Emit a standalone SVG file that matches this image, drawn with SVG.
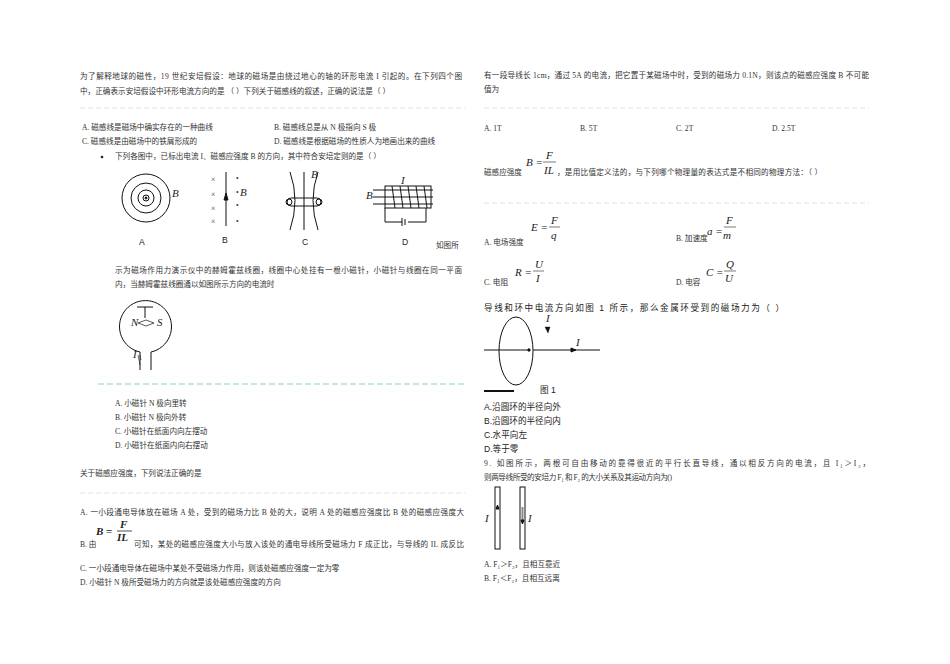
<svg xmlns="http://www.w3.org/2000/svg" width="950" height="664" viewBox="0 0 950 664">
<style>
text{font-family:"Liberation Serif","Noto Sans CJK SC",serif;font-size:7.6px;fill:#333}
.s{font-family:"Liberation Sans","Noto Sans CJK SC",sans-serif;font-size:8.6px;fill:#222}
.m{font-family:"Liberation Serif",serif;font-style:italic;font-size:11px;fill:#222}
.d{stroke:#ccc;stroke-width:0.6;stroke-dasharray:5,3}
.k{stroke:#111;fill:none;stroke-width:1}
</style>
<rect width="950" height="664" fill="#fff"/>
<g id="left">
<text x="80" y="79" textLength="382" lengthAdjust="spacing">为了解释地球的磁性，19 世纪安培假设：地球的磁场是由绕过地心的轴的环形电流 I 引起的。在下列四个图</text>
<text x="80" y="94" textLength="310" lengthAdjust="spacing">中，正确表示安培假设中环形电流方向的是 （ ）下列关于磁感线的叙述，正确的说法是（ ）</text>
<line class="d" x1="80" y1="108" x2="465" y2="108"/>
<text x="82" y="130">A. 磁感线是磁场中确实存在的一种曲线</text>
<text x="274" y="130">B. 磁感线总是从 N 极指向 S 极</text>
<text x="82" y="144">C. 磁感线是由磁场中的铁屑形成的</text>
<text x="274" y="144">D. 磁感线是根据磁场的性质人为地画出来的曲线</text>
<circle cx="102" cy="157" r="1.3" fill="#222"/>
<text x="115" y="159">下列各图中，已标出电流 I、磁感应强度 B 的方向，其中符合安培定则的是（ ）</text>
<g id="figA" class="k" stroke-width="0.8">
<circle cx="146" cy="198" r="24"/><circle cx="146" cy="198" r="15"/><circle cx="146" cy="198" r="8"/>
<circle cx="146" cy="198" r="3"/><circle cx="146" cy="198" r="1" fill="#111"/>
</g>
<text x="172" y="197" class="m" font-size="6">B</text>
<text x="139" y="245" class="s">A</text>
<g id="figB" class="k">
<line x1="226" y1="172" x2="226" y2="226"/>
<path d="M224 200 L226 193 L228 200Z" fill="#111"/>
</g>
<text x="211" y="182" font-size="9">×</text><text x="211" y="197" font-size="9">×</text><text x="211" y="211" font-size="9">×</text><text x="211" y="224" font-size="9">×</text>
<text x="236" y="181">•</text><text x="236" y="195">•</text><text x="236" y="208">•</text><text x="236" y="224">•</text>
<text x="240" y="196" class="m" font-size="6">B</text>
<text x="222" y="243" class="s">B</text>
<g id="figC" class="k" stroke-width="0.8">
<path d="M290 230 Q300 200 290 172"/><path d="M318 230 Q308 200 318 172"/><line x1="304" y1="230" x2="304" y2="172"/>
<rect x="287" y="198" width="34" height="8" rx="4"/>
<circle cx="289" cy="202" r="3"/><circle cx="319" cy="202" r="3"/>
</g>
<text x="311" y="178" class="m" font-size="6">B</text>
<text x="302" y="245" class="s">C</text>
<g id="figD" class="k" stroke-width="0.8">
<rect x="385" y="186" width="46" height="22"/>
<path d="M392 186 L395 208 M400 186 L403 208 M408 186 L411 208 M416 186 L419 208 M424 186 L427 208"/>
<line x1="373" y1="190" x2="433" y2="190"/><line x1="373" y1="197" x2="433" y2="197"/><line x1="373" y1="204" x2="433" y2="204"/>
<path d="M385 208 V222 H402 M408 222 H426 V208 M402 218 V226 M405 219 V225"/>
</g>
<text x="366" y="199" class="m" font-size="6">B</text>
<text x="401" y="184" class="m" font-size="6">I</text>
<text x="402" y="245" class="s">D</text>
<text x="436" y="248">如图所</text>
<text x="115" y="273" textLength="347" lengthAdjust="spacing">示为磁场作用力演示仪中的赫姆霍兹线圈，线圈中心处挂有一根小磁针，小磁针与线圈在同一平面</text>
<text x="115" y="287">内，当赫姆霍兹线圈通以如图所示方向的电流时</text>
<g id="helm" class="k">
<path d="M140 352 A26 26 0 1 1 151 352"/>
<path d="M140 352 V370 M151 352 V370"/>
<line x1="137" y1="307" x2="153" y2="307"/><line x1="145" y1="307" x2="145" y2="318"/>
<path d="M138 323 L146 320 L154 323 L146 326Z" stroke-width="0.7"/>
<path d="M140 365 L138 355 M140 355 L141 360" stroke-width="0.6"/>
</g>
<text x="131" y="326" class="m" font-size="6">N</text><text x="157" y="326" class="m" font-size="6">S</text>
<text x="133" y="358" class="m" font-size="6">I</text>
<line x1="98" y1="384" x2="465" y2="384" stroke="#8fcfb0" stroke-width="1.2" stroke-dasharray="6,3"/>
<text x="115" y="406">A. 小磁针 N 极向里转</text>
<text x="115" y="420">B. 小磁针 N 极向外转</text>
<text x="115" y="434">C. 小磁针在纸面内向左摆动</text>
<text x="115" y="448">D. 小磁针在纸面内向右摆动</text>
<text x="80" y="476">关于磁感应强度，下列说法正确的是</text>
<line class="d" x1="80" y1="493" x2="465" y2="493"/>
<text x="80" y="515" textLength="384" lengthAdjust="spacing">A. 一小段通电导体放在磁场 A 处，受到的磁场力比 B 处的大，说明 A 处的磁感应强度比 B 处的磁感应强度大</text>
<text x="96" y="535" class="m" font-weight="bold">B =</text>
<text x="120" y="528" class="m" font-weight="bold">F</text><line x1="117" y1="531" x2="132" y2="531" stroke="#222" stroke-width="0.8"/>
<text x="117" y="541" class="m" font-weight="bold">IL</text>
<text x="80" y="547">B. 由</text>
<text x="134" y="547" textLength="330" lengthAdjust="spacing">可知，某处的磁感应强度大小与放入该处的通电导线所受磁场力 F 成正比，与导线的 IL 成反比</text>
<text x="80" y="571">C. 一小段通电导体在磁场中某处不受磁场力作用，则该处磁感应强度一定为零</text>
<text x="80" y="585">D. 小磁针 N 极所受磁场力的方向就是该处磁感应强度的方向</text>
</g>
<g id="right">
<text x="484" y="78" textLength="385" lengthAdjust="spacing">有一段导线长 1cm，通过 5A 的电流，把它置于某磁场中时，受到的磁场力 0.1N，则该点的磁感应强度 B 不可能</text>
<text x="484" y="92">值为</text>
<line class="d" x1="484" y1="108" x2="869" y2="108"/>
<text x="484" y="131">A. 1T</text><text x="580" y="131">B. 5T</text><text x="676" y="131">C. 2T</text><text x="772" y="131">D. 2.5T</text>
<text x="526" y="166" class="m">B =</text><text x="546" y="159" class="m">F</text>
<line x1="543" y1="162" x2="556" y2="162" stroke="#222" stroke-width="0.6"/><text x="544" y="174" class="m">IL</text>
<text x="484" y="175">磁感应强度</text>
<text x="557" y="175" textLength="265" lengthAdjust="spacing">，是用比值定义法的，与下列哪个物理量的表达式是不相同的物理方法：（ ）</text>
<line class="d" x1="484" y1="203" x2="869" y2="203"/>
<text x="531" y="231" class="m">E =</text><text x="551" y="224" class="m">F</text>
<line x1="549" y1="227" x2="560" y2="227" stroke="#222" stroke-width="0.6"/><text x="551" y="239" class="m">q</text>
<text x="484" y="245">A. 电场强度</text>
<text x="707" y="235" class="m">a =</text><text x="726" y="224" class="m">F</text>
<line x1="724" y1="227" x2="736" y2="227" stroke="#222" stroke-width="0.6"/><text x="723" y="239" class="m">m</text>
<text x="676" y="241">B. 加速度</text>
<text x="515" y="276" class="m">R =</text><text x="535" y="268" class="m">U</text>
<line x1="533" y1="271" x2="544" y2="271" stroke="#222" stroke-width="0.6"/><text x="536" y="282" class="m">I</text>
<text x="484" y="285">C. 电阻</text>
<text x="706" y="276" class="m">C =</text><text x="726" y="268" class="m">Q</text>
<line x1="724" y1="271" x2="736" y2="271" stroke="#222" stroke-width="0.6"/><text x="725" y="282" class="m">U</text>
<text x="676" y="285">D. 电容</text>
<text x="484" y="311" class="s" textLength="300" lengthAdjust="spacing">导线和环中电流方向如图 1 所示，那么金属环受到的磁场力为（          ）</text>
<g id="ring" class="k" stroke-width="1.2">
<ellipse cx="516" cy="351" rx="17" ry="34"/>
<line x1="484" y1="350" x2="529" y2="350"/><line x1="533" y1="350" x2="600" y2="350"/>
<circle cx="529" cy="350" r="1.2" fill="#111"/>
<path d="M571 348 L576 350 L571 352Z" fill="#111"/>
<path d="M545 327 L548 333 L550 327Z" fill="#111" stroke-width="0.4"/>
<line x1="484" y1="391" x2="514" y2="391" stroke-width="2"/>
</g>
<text x="546" y="322" class="m" font-size="8">I</text><text x="576" y="346" class="m" font-size="8">I</text>
<text x="540" y="393" class="s" font-size="10" fill="#999">图 1</text>
<text x="484" y="410" class="s">A.沿圆环的半径向外</text>
<text x="484" y="424" class="s">B.沿圆环的半径向内</text>
<text x="484" y="438" class="s">C.水平向左</text>
<text x="484" y="452" class="s">D.等于零</text>
<text x="484" y="466" font-size="9" textLength="386" lengthAdjust="spacing">9.  如图所示，两根可自由移动的靠得很近的平行长直导线，通以相反方向的电流，且 I₁＞I₂，</text>
<text x="484" y="480" font-size="9" textLength="188" lengthAdjust="spacing">则两导线所受的安培力 F₁ 和 F₂ 的大小关系及其运动方向为()</text>
<g id="wires" class="k" stroke-width="0.8">
<rect x="495" y="487" width="5" height="62"/><rect x="520" y="487" width="5" height="62"/>
<path d="M496 509 L497.5 505 L499 509Z" fill="#111"/>
<line x1="522.5" y1="507" x2="522.5" y2="520" stroke="#888" stroke-width="2"/>
<path d="M521 520 L522.5 524 L524 520Z" fill="#111"/>
</g>
<text x="485" y="522" class="m" font-size="8">I</text><text x="528" y="522" class="m" font-size="8">I</text>
<text x="484" y="567" font-size="8.6">A. F₁＞F₂，且相互靠近</text>
<text x="484" y="581" font-size="8.6">B. F₁＜F₂，且相互远离</text>
</g>
</svg>
